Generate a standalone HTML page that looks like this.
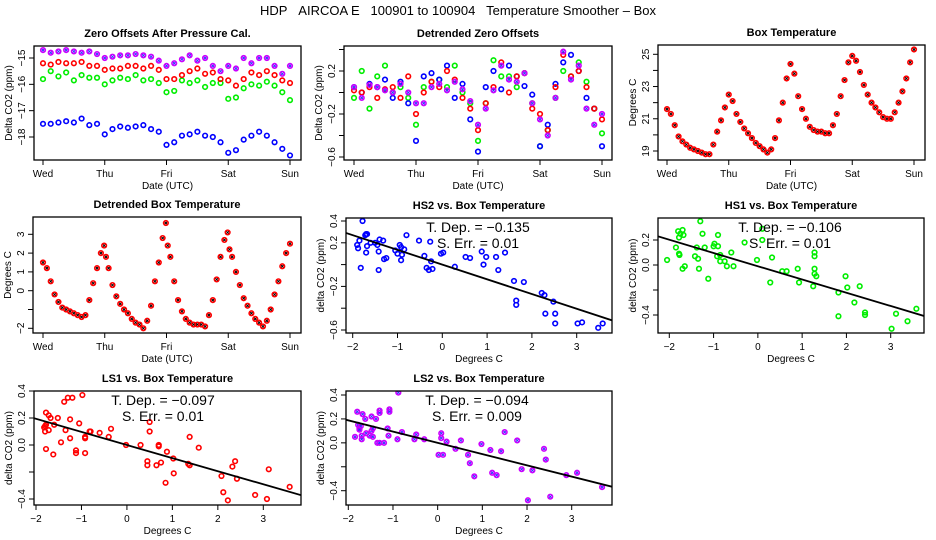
<!DOCTYPE html>
<html><head><meta charset="utf-8">
<style>
body{margin:0;background:#fff;}
svg{display:block;font-family:"Liberation Sans",Arial,sans-serif;}
</style></head>
<body>
<svg id="chart" width="936" height="540" viewBox="0 0 936 540" xmlns="http://www.w3.org/2000/svg">
<rect width="936" height="540" fill="#fff"/>
<text x="458" y="15" font-size="13" text-anchor="middle">HDP&#160;&#160;&#160;AIRCOA E&#160;&#160;&#160;100901 to 100904&#160;&#160;&#160;Temperature Smoother – Box</text>
</svg>
<script>
// ---------- data ----------
const zeroTimes=[0,0.125,0.25,0.375,0.5,0.625,0.75,0.875,1,1.125,1.25,1.375,1.5,1.625,1.75,1.875,2,2.125,2.25,2.375,2.5,2.625,2.75,2.875,3,3.125,3.25,3.375,3.5,3.625,3.75,3.875,4];
const zeroPurple=[-14.7,-14.8,-14.75,-14.7,-14.75,-14.8,-14.75,-14.85,-15.0,-14.95,-14.9,-14.9,-14.85,-14.9,-14.95,-15.1,-15.3,-15.2,-15.05,-14.9,-15.1,-15.0,-15.3,-15.5,-15.3,-15.4,-15.0,-15.2,-15.0,-15.0,-15.3,-15.6,-15.3];
const zeroRed=[-15.2,-15.25,-15.15,-15.2,-15.2,-15.15,-15.3,-15.3,-15.45,-15.4,-15.4,-15.3,-15.3,-15.4,-15.3,-15.45,-15.8,-15.8,-15.65,-15.5,-15.4,-15.6,-15.55,-15.8,-15.85,-16.05,-15.8,-15.55,-15.65,-15.5,-15.65,-15.85,-15.95];
const zeroGreen=[-15.8,-15.5,-15.7,-15.55,-15.85,-15.65,-15.75,-15.75,-16.0,-15.85,-15.75,-15.8,-15.65,-15.85,-15.8,-15.95,-16.3,-16.25,-15.85,-15.95,-15.85,-16.1,-15.95,-15.95,-16.55,-16.5,-16.15,-16.0,-16.05,-15.9,-16.05,-16.3,-16.6];
const zeroBlue=[-17.5,-17.5,-17.45,-17.4,-17.45,-17.3,-17.55,-17.5,-17.9,-17.7,-17.6,-17.65,-17.6,-17.55,-17.7,-17.8,-18.3,-18.2,-17.95,-17.9,-17.8,-17.95,-18.0,-18.2,-18.6,-18.5,-18.1,-17.95,-17.8,-17.95,-18.2,-18.45,-18.7];
const detBlue=[0.05,0.0,0.08,0.05,0.12,-0.05,0.1,-0.1,-0.45,0.15,0.18,0.12,0.25,-0.05,0.08,-0.25,-0.55,0.05,0.2,0.03,0.25,0.15,0.06,-0.02,-0.5,-0.3,0.08,0.28,0.35,0.2,-0.05,-0.15,-0.5];
const detRed=[0.02,0.0,0.05,-0.05,0.03,0.05,-0.05,0.15,-0.2,0.0,0.1,0.05,0.2,0.12,-0.05,-0.15,-0.35,-0.1,0.05,0.28,0.0,0.15,0.18,-0.15,-0.2,-0.35,0.05,0.35,0.15,0.2,0.05,-0.15,-0.25];
const detGreen=[-0.05,0.2,-0.15,0.15,0.25,0.0,0.05,-0.05,-0.3,0.05,0.1,0.12,0.05,0.25,0.0,-0.1,-0.45,-0.1,0.3,0.15,0.15,0.05,0.18,-0.1,-0.5,-0.35,-0.05,0.2,0.15,0.28,0.1,-0.15,-0.38];
const detPurple=[0.05,-0.05,0.07,0.05,0.02,0.0,0.08,0.0,-0.1,-0.1,0.05,0.08,0.02,0.1,0.03,-0.08,-0.3,-0.15,0.02,0.25,0.12,0.1,0.18,-0.1,-0.25,-0.4,-0.05,0.38,0.12,0.25,-0.15,-0.3,-0.2];
const boxTimes=[0,0.0625,0.125,0.1875,0.25,0.3125,0.375,0.4375,0.5,0.5625,0.625,0.6875,0.75,0.8125,0.875,0.9375,1,1.0625,1.125,1.1875,1.25,1.3125,1.375,1.4375,1.5,1.5625,1.625,1.6875,1.75,1.8125,1.875,1.9375,2,2.0625,2.125,2.1875,2.25,2.3125,2.375,2.4375,2.5,2.5625,2.625,2.6875,2.75,2.8125,2.875,2.9375,3,3.0625,3.125,3.1875,3.25,3.3125,3.375,3.4375,3.5,3.5625,3.625,3.6875,3.75,3.8125,3.875,3.9375,4];
const boxTemp=[21.6,21.3,20.6,19.9,19.6,19.4,19.2,19.1,19.0,18.9,18.8,18.8,19.4,20.2,20.9,21.7,22.5,22.1,21.3,20.8,20.4,20.1,19.8,19.5,19.3,19.1,18.9,19.1,19.8,20.9,22.0,23.5,24.4,23.8,22.4,21.6,21.0,20.5,20.3,20.2,20.2,20.1,20.1,20.6,21.3,22.4,23.4,24.5,24.9,24.6,23.9,23.1,22.5,22.0,21.7,21.4,21.1,21.0,21.0,21.4,22.0,22.7,23.5,24.5,25.3];
const detTimes=[0,0.0625,0.125,0.1875,0.25,0.3125,0.375,0.4375,0.5,0.5625,0.625,0.6875,0.75,0.8125,0.875,0.9375,0.99,1.02,1.0625,1.125,1.1875,1.25,1.3125,1.375,1.4375,1.5,1.5625,1.625,1.6875,1.75,1.8125,1.875,1.9375,1.99,2.02,2.0625,2.125,2.1875,2.25,2.3125,2.375,2.4375,2.5,2.5625,2.625,2.6875,2.75,2.8125,2.875,2.9375,2.99,3.02,3.0625,3.125,3.1875,3.25,3.3125,3.375,3.4375,3.5,3.5625,3.625,3.6875,3.75,3.8125,3.875,3.9375,4];
const detTemp=[1.5,1.2,0.5,-0.2,-0.6,-0.9,-1.0,-1.1,-1.2,-1.3,-1.4,-1.3,-0.5,0.4,1.2,2.0,2.4,1.8,1.2,0.3,-0.3,-0.7,-1.0,-1.2,-1.5,-1.7,-1.8,-2.0,-1.6,-0.8,0.5,1.5,2.8,3.6,2.4,1.8,0.5,-0.5,-1.1,-1.5,-1.7,-1.8,-1.8,-1.8,-1.9,-1.3,-0.5,0.6,1.8,2.7,3.1,2.2,1.8,1.0,0.3,-0.4,-0.8,-1.2,-1.5,-1.7,-1.9,-1.6,-1.0,-0.2,0.5,1.3,2.0,2.5];
const hs2X=[-1.78,-1.9,-1.85,-1.88,-1.7,-1.68,-1.72,-1.68,-1.7,-1.82,-1.6,-1.5,-1.45,-1.4,-1.32,-1.42,-1.42,-1.3,-1.25,-1.05,-1.0,-0.95,-0.92,-0.9,-0.92,-0.85,-0.8,-0.52,-0.4,-0.35,-0.3,-0.27,-0.25,-0.22,-0.03,0.02,0.28,0.52,0.62,0.88,0.92,0.98,1.2,1.25,1.4,1.6,1.65,1.65,1.82,2.22,2.28,2.48,2.3,2.52,2.52,3.02,3.12,3.48,3.58];
const hs2Y=[0.4,0.18,0.22,0.15,0.28,0.28,0.27,0.17,0.11,-0.03,0.2,0.2,0.18,0.23,0.22,0.12,-0.05,0.05,0.06,0.13,0.1,0.18,0.16,0.09,0.04,0.14,0.27,0.22,0.08,-0.03,-0.05,0.21,0.03,-0.04,0.1,0.11,-0.02,0.07,0.06,0.12,0.0,0.07,0.07,-0.05,0.11,-0.15,-0.33,-0.37,-0.16,-0.26,-0.28,-0.34,-0.45,-0.45,-0.54,-0.54,-0.53,-0.58,-0.54];
const hs1X=[-2.05,-1.85,-1.8,-1.78,-1.75,-1.7,-1.68,-1.78,-1.77,-1.7,-1.65,-1.3,-1.25,-1.2,-1.38,-1.42,-1.35,-1.33,-1.12,-1.0,-0.98,-0.9,-0.9,-0.92,-0.85,-0.85,-0.75,-0.7,-0.6,-0.55,-0.3,-0.02,0.1,0.1,0.32,0.28,0.55,0.65,0.9,0.93,1.25,1.28,1.28,1.28,1.28,1.32,1.82,1.82,1.98,2.02,2.18,2.3,2.42,2.42,3.02,3.12,3.38,3.58];
const hs1Y=[0.04,0.14,0.27,0.22,0.25,0.28,0.24,0.09,0.08,-0.03,-0.01,0.35,0.25,0.14,0.14,0.07,0.05,-0.03,-0.11,0.15,0.17,0.15,0.24,0.07,0.08,0.03,0.03,-0.01,0.1,-0.01,0.18,0.04,0.29,0.2,0.06,-0.14,-0.05,-0.05,-0.03,-0.14,-0.17,0.1,0.07,-0.03,-0.07,-0.09,-0.22,-0.41,-0.09,-0.18,-0.3,-0.17,-0.38,-0.4,-0.51,-0.39,-0.45,-0.35];
const ls1X=[-1.8,-1.82,-1.78,-1.78,-1.72,-1.68,-1.8,-1.72,-1.6,-1.52,-1.78,-1.62,-1.38,-1.3,-1.2,-0.98,-1.35,-1.25,-1.25,-1.45,-1.12,-1.12,-1.05,-0.92,-0.92,-0.92,-0.82,-0.8,-0.6,-0.4,-0.35,-0.02,0.3,0.45,0.45,0.5,0.5,0.65,0.7,0.7,0.75,0.85,0.88,1.02,1.03,1.35,1.38,1.38,1.58,2.08,2.12,2.22,2.32,2.38,2.42,2.82,3.08,3.12,3.58];
const ls1Y=[0.14,0.13,0.15,0.24,0.22,0.2,0.1,0.11,0.15,0.2,-0.03,-0.07,0.32,0.35,0.35,0.37,0.11,0.19,0.05,0.02,-0.04,-0.06,0.16,0.06,0.05,-0.06,0.1,0.1,0.09,0.06,0.12,0.0,0.0,-0.12,-0.15,0.17,0.1,-0.15,0.0,-0.01,-0.13,-0.28,-0.05,-0.1,-0.21,-0.14,-0.15,0.06,-0.02,-0.23,-0.35,-0.41,-0.16,-0.12,-0.25,-0.37,-0.4,-0.18,-0.31];
const ls2X=[-1.85,-1.8,-1.78,-1.75,-1.72,-1.75,-1.7,-1.7,-1.68,-1.62,-1.6,-1.52,-1.48,-1.48,-1.45,-1.45,-1.38,-1.35,-1.3,-1.2,-1.3,-1.3,-1.12,-1.1,-1.08,-1.08,-0.9,-0.88,-0.8,-0.52,-0.48,-0.3,0.02,0.12,0.08,0.08,0.2,0.4,0.52,0.68,0.72,0.82,0.98,1.18,1.22,1.32,1.42,1.5,1.78,1.88,2.02,2.12,2.38,2.42,2.52,2.88,3.12,3.68];
const ls2Y=[0.05,0.26,0.15,0.12,0.14,0.11,0.06,0.03,0.24,0.2,0.08,0.06,0.22,0.1,0.12,0.05,0.2,0.0,0.0,0.0,0.27,0.25,0.12,0.06,0.28,0.26,0.03,0.42,0.09,0.03,0.07,0.03,-0.1,-0.1,0.08,0.04,0.01,-0.05,0.02,-0.1,-0.17,-0.28,-0.01,-0.06,-0.25,-0.27,-0.07,0.09,0.02,-0.22,-0.48,-0.23,-0.05,-0.14,-0.45,-0.27,-0.25,-0.37];
const fitSlopes=[-0.135,-0.106,-0.097,-0.094];
const fitIntercepts=[0.0,-0.01,0.0,0.0];
const fitErrors=["0.01","0.01","0.01","0.009"];
const dayLabels=["Wed","Thu","Fri","Sat","Sun"];
const dayTicks=[0,1,2,3,4];
const degTicks=[-2,-1,0,1,2,3];

// ---------- drawing ----------
const NS="http://www.w3.org/2000/svg";
const svg=document.getElementById('chart');
function mk(tag,attrs,parent){const e=document.createElementNS(NS,tag);for(const k in attrs)e.setAttribute(k,attrs[k]);(parent||svg).appendChild(e);return e;}
function lin(v0,p0,v1,p1){return v=>p0+(v-v0)*(p1-p0)/(v1-v0);}

function panel(cfg){
  const g=mk('g',{});
  
  
  const [x0,x1,y0,y1]=cfg.box;
  const t=mk('text',{x:(x0+x1)/2,y:y0-9,'font-size':11,'font-weight':'bold','text-anchor':'middle'},g);
  t.textContent=cfg.title;
  
  
  cfg.xticks.forEach((v,i)=>{
    const px=cfg.sx(v);
    mk('line',{x1:px,x2:px,y1:y1,y2:y1+5,stroke:'#000','stroke-width':1},g);
    const lb=cfg.xlabels[i];
    if(lb!==''){const tx=mk('text',{x:px,y:y1+17,'font-size':10,'text-anchor':'middle'},g);tx.textContent=lb;
      
      }
  });
  const xt=mk('text',{x:(x0+x1)/2,y:y1+29,'font-size':10,'text-anchor':'middle'},g);
  xt.textContent=cfg.xtitle;
  
  
  cfg.yticks.forEach((v,i)=>{
    const py=cfg.sy(v);
    mk('line',{x1:x0-5,x2:x0,y1:py,y2:py,stroke:'#000','stroke-width':1},g);
    const lb=cfg.ylabels[i];
    if(lb!==''){const tx=mk('text',{x:0,y:0,'font-size':10,'text-anchor':'middle',transform:`translate(${x0-9},${py}) rotate(-90)`},g);tx.textContent=lb;
      
      }
  });
  const yt=mk('text',{x:0,y:0,'font-size':10,'text-anchor':'middle',transform:`translate(${x0-22},${(y0+y1)/2}) rotate(-90)`},g);
  yt.textContent=cfg.ytitle;
  
  
  const clip='c'+Math.round(x0)+'_'+Math.round(y0);
  const cp=mk('clipPath',{id:clip},g);mk('rect',{x:x0,y:y0,width:x1-x0,height:y1-y0},cp);
  const pg=mk('g',{'clip-path':`url(#${clip})`},g);
  
  
  cfg.series.forEach(s=>{
    s.x.forEach((xv,i)=>{
      const cx=cfg.sx(xv),cy=cfg.sy(s.y[i]);
      if(s.cross){mk('path',{d:`M${cx-2} ${cy-2}L${cx+2} ${cy+2}M${cx-2} ${cy+2}L${cx+2} ${cy-2}`,stroke:s.cross,'stroke-width':1},pg);}
      const c=mk('circle',{cx:cx,cy:cy,r:2.3,fill:'none',stroke:s.color,'stroke-width':1.6},pg);
      
      
    });
  });
  if(cfg.fit){
    const f=cfg.fit;
    const va=cfg.sxInv(x0),vb=cfg.sxInv(x1);
    const l=mk('line',{x1:x0,y1:cfg.sy(f.b+f.m*va),x2:x1,y2:cfg.sy(f.b+f.m*vb),stroke:'#000','stroke-width':1.8},pg);
    
    
    const a1=mk('text',{x:f.tx,y:f.ty,'font-size':14,'text-anchor':'middle'},g);
    a1.textContent='T. Dep. =  \u2212'+Math.abs(f.m).toFixed(3);
    
    
    const a2=mk('text',{x:f.tx,y:f.ty+16,'font-size':14,'text-anchor':'middle'},g);
    a2.textContent='S. Err. =  '+f.err;
    
    
  }
  mk('rect',{x:x0,y:y0,width:x1-x0,height:y1-y0,fill:'none',stroke:'#000','stroke-width':1.3},g);
}
function tsPanel(name,title,box,xa,xb,yv0,yp0,yv1,yp1,yt,yl,series){
  panel({name,title,box,sx:lin(0,xa,4,xb),xticks:dayTicks,xlabels:dayLabels,xtitle:'Date (UTC)',
    sy:lin(yv0,yp0,yv1,yp1),yticks:yt,ylabels:yl,ytitle:series.ytitle,series:series.list});
}
tsPanel('zero-offsets-panel','Zero Offsets After Pressure Cal.',[34,301,46,160],43,290,-15,58,-18,137,[-15,-16,-17,-18],['\u221215','\u221216','\u221217','\u221218'],
 {ytitle:'Delta CO2 (ppm)',list:[
  {name:'hs2',x:zeroTimes,y:zeroBlue,color:'#0000ff'},
  {name:'hs1',x:zeroTimes,y:zeroGreen,color:'#00ee00'},
  {name:'ls1',x:zeroTimes,y:zeroRed,color:'#ff0000'},
  {name:'ls2',x:zeroTimes,y:zeroPurple,color:'#cc00ff',cross:'#3030ff'}]});
tsPanel('detrended-zero-panel','Detrended Zero Offsets',[344,612,46,160],354,602,0.2,71,-0.6,157,[0.4,0.2,0,-0.2,-0.4,-0.6],['','0.2','','\u22120.2','','\u22120.6'],
 {ytitle:'Delta CO2 (ppm)',list:[
  {name:'hs1',x:zeroTimes,y:detGreen,color:'#00ee00'},
  {name:'hs2',x:zeroTimes,y:detBlue,color:'#0000ff'},
  {name:'ls1',x:zeroTimes,y:detRed,color:'#ff0000'},
  {name:'ls2',x:zeroTimes,y:detPurple,color:'#cc00ff',cross:'#3030ff'}]});
tsPanel('box-temperature-panel','Box Temperature',[658,925,45,160],667,914,25,54.3,19,151,[19,20,21,22,23,24,25],['19','','21','','23','','25'],
 {ytitle:'Degrees C',list:[{name:'box-temp',x:boxTimes,y:boxTemp,color:'#ff0000',cross:'#000'}]});
tsPanel('detrended-box-temp-panel','Detrended Box Temperature',[33,301,217,333],43,290,3,234.3,-2,328.3,[3,2,1,0,-1,-2],['3','2','1','0','','\u22122'],
 {ytitle:'Degrees C',list:[{name:'det-temp',x:detTimes,y:detTemp,color:'#ff0000',cross:'#000'}]});

function scPanel(name,title,box,xp0,xp3,yv0,yp0,yv1,yp1,yt,yl,X,Y,color,cross,k,tx,ty){
  const sx=lin(-2,xp0,3,xp3);
  const sxInv=lin(xp0,-2,xp3,3);
  panel({name,title,box,sx,sxInv,xticks:degTicks,xlabels:['\u22122','\u22121','0','1','2','3'],xtitle:'Degrees C',
   sy:lin(yv0,yp0,yv1,yp1),yticks:yt,ylabels:yl,ytitle:'delta CO2 (ppm)',
   series:[{name:name.split('-')[0],x:X,y:Y,color,cross}],
   fit:{m:fitSlopes[k],b:fitIntercepts[k],err:fitErrors[k],tx,ty}});
}
scPanel('hs2-scatter-panel','HS2 vs. Box Temperature',[346,612,218,333],352.7,576.7,0.4,221,-0.6,330,[0.4,0.2,0,-0.2,-0.4,-0.6],['0.4','0.2','','\u22120.2','','\u22120.6'],hs2X,hs2Y,'#0000ff',null,0,478,232);
scPanel('hs1-scatter-panel','HS1 vs. Box Temperature',[658,924,218,333],669.3,890.7,0.2,240,-0.4,315,[0.2,0,-0.2,-0.4],['0.2','0.0','','\u22120.4'],hs1X,hs1Y,'#00ee00',null,1,790,232);
scPanel('ls1-scatter-panel','LS1 vs. Box Temperature',[34,301,391,505],36,263.3,0.4,391,-0.4,499,[0.4,0.2,0,-0.2,-0.4],['0.4','0.2','0.0','','\u22120.4'],ls1X,ls1Y,'#ff0000',null,2,163,405);
scPanel('ls2-scatter-panel','LS2 vs. Box Temperature',[346,612,391,505],348.3,571.7,0.4,395,-0.4,490.7,[0.4,0.2,0,-0.2,-0.4],['0.4','0.2','0.0','','\u22120.4'],ls2X,ls2Y,'#cc00ff','#3030ff',3,477,405);
</script>
</body></html>
